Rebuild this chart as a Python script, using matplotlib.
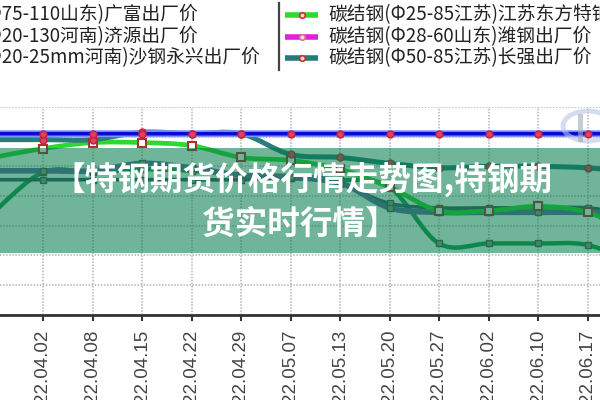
import numpy as np
import matplotlib
matplotlib.use("Agg")
import matplotlib.pyplot as plt
from matplotlib.path import Path
from matplotlib.patches import PathPatch, Rectangle, Ellipse

CJK = ["Noto Sans CJK SC", "DejaVu Sans"]

# dates (first and last are only partly in view)
dates = ["22.03.25", "22.04.02", "22.04.08", "22.04.15", "22.04.22", "22.04.29",
         "22.05.07", "22.05.13", "22.05.20", "22.05.27", "22.06.02", "22.06.10",
         "22.06.17", "22.06.24"]

# prices
blue_line = [5820, 5820, 5820, 5820, 5820, 5820, 5820, 5820, 5820, 5820, 5820, 5820, 5820, 5820]
teal_line = [5780, 5780, 5780, 5830, 5820, 5820, 5680, 5660, 5620, 5590, 5600, 5600, 5590, 5560]
green_line = [5660, 5720, 5760, 5760, 5740, 5660, 5640, 5580, 5460, 5300, 5300, 5330, 5290, 5140]
purple_line = [5570, 5570, 5570, 5620, 5590, 5540, 5530, 5490, 5320, 5290, 5290, 5290, 5290, 5280]
slate_line = [5510, 5510, 5510, 5510, 5510, 5510, 5520, 5480, 5350, 5320, 5320, 5320, 5320, 5270]
dkgreen_line = [5290, 5560, 5560, 5580, 5570, 5540, 5520, 5510, 5460, 5080, 5080, 5080, 5070, 4940]

legend_left = ["碳结钢(Φ75-110山东)广富出厂价",
               "碳结钢(Φ20-130河南)济源出厂价",
               "碳结钢(Φ20-25mm河南)沙钢永兴出厂价"]
legend_right = ["碳结钢(Φ25-85江苏)江苏东方特钢出厂价",
                "碳结钢(Φ28-60山东)潍钢出厂价",
                "碳结钢(Φ50-85江苏)长强出厂价"]
legend_right_colors = ["#33d633", "#e020e0", "#267a7a"]
legend_right_marks = ["#cc3030", "#e07090", "#cc3030"]

banner = ["【特钢期货价格行情走势图,特钢期", "货实时行情】"]


def smooth(ax, xs, ys, **kw):
    # catmull-rom style curve through the points, drawn as bezier path
    p = np.column_stack([xs, ys]).astype(float)
    verts = [p[0]]
    codes = [Path.MOVETO]
    n = len(p)
    for i in range(n - 1):
        p0 = p[i - 1] if i > 0 else p[i]
        p3 = p[i + 2] if i + 2 < n else p[i + 1]
        c1 = p[i] + (p[i + 1] - p0) / 6.0
        c2 = p[i + 1] - (p3 - p[i]) / 6.0
        verts += [c1, c2, p[i + 1]]
        codes += [Path.CURVE4] * 3
    patch = PathPatch(Path(verts, codes), fill=False, capstyle="round", joinstyle="round", **kw)
    ax.add_patch(patch)


fig = plt.figure(figsize=(6, 4), dpi=100)
fig.patch.set_facecolor("white")

ax = fig.add_axes([0, 1 - 314.7 / 400, 1, (314.7 - 107) / 400])
x = np.arange(len(dates))

# lines
smooth(ax, x, dkgreen_line, edgecolor="#1f9a50", lw=3.2, zorder=3)
smooth(ax, x, slate_line, edgecolor="#3d5c6b", lw=2.6, zorder=3)
smooth(ax, x, purple_line, edgecolor="#6a6aaa", lw=4, zorder=3)
smooth(ax, x, green_line, edgecolor="#2ed82e", lw=3.4, zorder=4)
smooth(ax, x, teal_line, edgecolor="#2a7d7d", lw=3.6, zorder=4)
smooth(ax, x, blue_line, edgecolor="#8094ff", lw=5, zorder=5)
smooth(ax, x, blue_line, edgecolor="#0a0ad0", lw=2.6, zorder=5)

for ys in [dkgreen_line, slate_line, purple_line]:
    ax.plot(x, ys, ls="none", marker="s", ms=4.5, mfc="#9a9a86", mec="#555555", mew=1, zorder=6)
ax.plot(x, green_line, ls="none", marker="s", ms=6, mfc="white", mec="#b03030", mew=1.5, zorder=6)
ax.plot(x, teal_line, ls="none", marker="o", ms=5, mfc="#e0405a", mec="#c02040", zorder=6)
ax.plot(x, blue_line, ls="none", marker="o", ms=5, mfc="#e0405a", mec="#c02040", zorder=6)

ax.set_yticks(np.arange(4600, 6001, 200))
ax.set_xticks(x)
ax.set_xticklabels(dates, rotation=90, fontsize=13.5, family="Liberation Sans", color="#444444")
# limits after set_xticks, which would widen them
ax.set_xlim(1 - 43 / 49.5, 1 + 557 / 49.5)
ax.set_ylim(4600, 6000)
ax.tick_params(axis="y", length=0, labelleft=False)
ax.tick_params(axis="x", length=4, width=1.5, color="#333333", pad=7)
for s in ["left", "right", "top"]:
    ax.spines[s].set_visible(False)
ax.spines["bottom"].set_color("#333333")
ax.spines["bottom"].set_linewidth(2)
ax.grid(True, color="#b4b4b4", linestyle=(0, (1, 1)), linewidth=1.1)
ax.set_axisbelow(True)

# overlay in pixel coordinates
ov = fig.add_axes([0, 0, 1, 1], zorder=5)
ov.set_xlim(0, 600)
ov.set_ylim(400, 0)
ov.axis("off")
ov.patch.set_alpha(0)

# faint watermark logo
ov.add_patch(Ellipse((588, 126), 50, 30, fill=False, ec="#b8c6e2", lw=3.5, alpha=0.6))
ov.add_patch(Rectangle((578, 114), 5, 28, fc="#a0abba", ec="none", alpha=0.6))

# legend
rows = [15, 37, 58]
for txt, yy in zip(legend_left, rows):
    ov.text(-76, yy, txt, family=CJK, fontsize=13.5, color="#222222", ha="left", va="center")
ov.plot([279, 279], [3, 70], color="#444444", lw=1.6)
for txt, yy, c, mc in zip(legend_right, rows, legend_right_colors, legend_right_marks):
    ov.plot([285, 318], [yy, yy], color=c, lw=4, solid_capstyle="butt")
    ov.plot([302], [yy], marker="o", ms=4, mfc="#f0e0e0", mec=mc, mew=1.2)
    ov.text(328, yy, txt, family=CJK, fontsize=13.5, color="#222222", ha="left", va="center")

# green banner
ov.add_patch(Rectangle((0, 148), 600, 105, fc="#007a4a", alpha=0.56, lw=0))
ov.text(302, 180, banner[0], family=CJK, fontsize=23.5, fontweight="bold", color="white",
        ha="center", va="center")
ov.text(300, 224, banner[1], family=CJK, fontsize=23.5, fontweight="bold", color="white",
        ha="center", va="center")

fig.savefig("out.png", dpi=100)
